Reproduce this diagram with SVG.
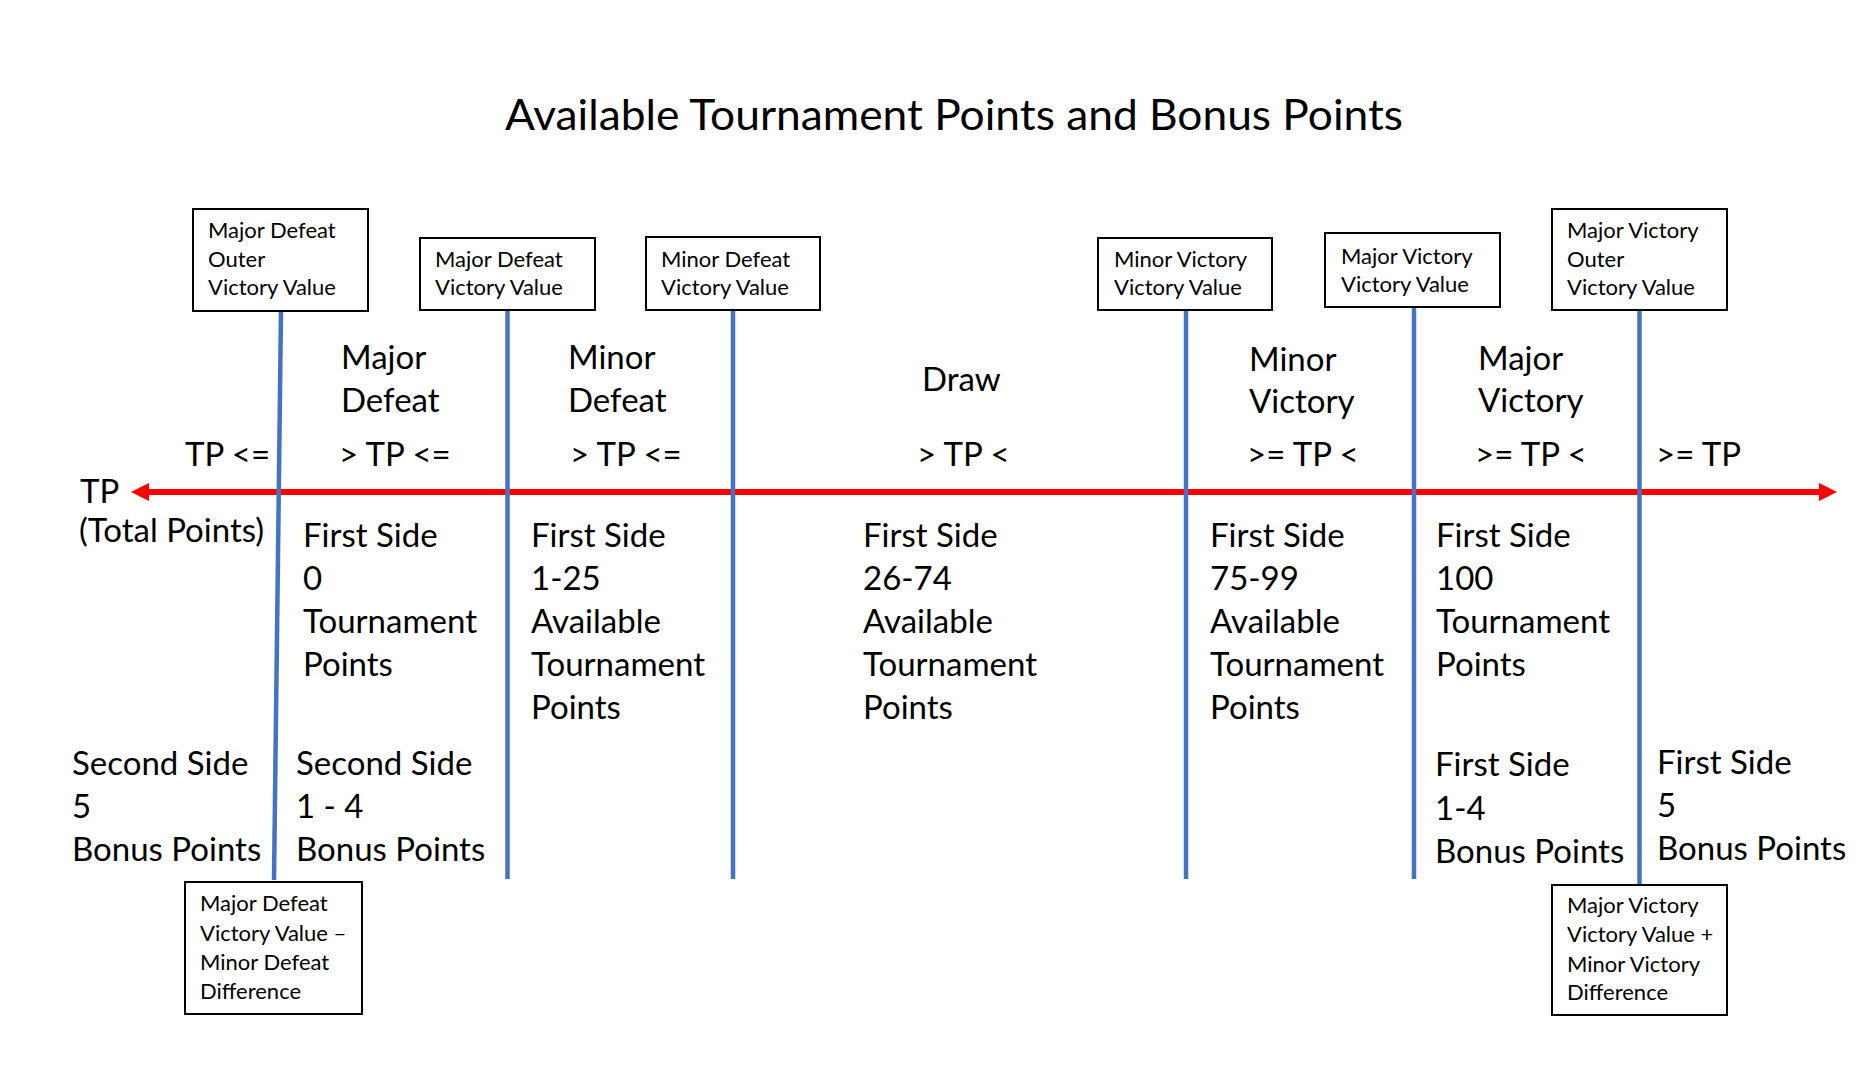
<svg xmlns="http://www.w3.org/2000/svg" width="1875" height="1071" viewBox="0 0 1875 1071">
<defs>
<style>
.title{font-family:Lato,"Liberation Sans",sans-serif;font-size:42px;fill:#000}
.t{font-family:Lato,"Liberation Sans",sans-serif;font-size:33px;fill:#000}
.bt{font-family:Lato,"Liberation Sans",sans-serif;font-size:22px;fill:#000}
.box{fill:#fff;stroke:#000;stroke-width:2}
.vl{stroke:#4472C4;stroke-width:4.5;fill:none}
.axis{stroke:#FF0000;stroke-width:6;fill:none}
</style>
<marker id="ah" markerUnits="userSpaceOnUse" markerWidth="18" markerHeight="18" refX="0" refY="9" orient="auto-start-reverse">
<path d="M0,0 L18,9 L0,18 z" fill="#FF0000"/>
</marker>
</defs>
<rect width="1875" height="1071" fill="#fff"/>
<text class="title" x="505" y="130" textLength="898" lengthAdjust="spacingAndGlyphs">Available Tournament Points and Bonus Points</text>

<g id="connectors">
<line class="axis" x1="149" y1="492" x2="1819" y2="492" marker-start="url(#ah)" marker-end="url(#ah)"/>
<line class="vl" x1="281" y1="311" x2="274" y2="880"/>
<line class="vl" x1="507.5" y1="310" x2="507.5" y2="879"/>
<line class="vl" x1="733" y1="310" x2="733" y2="879"/>
<line class="vl" x1="1186" y1="310" x2="1186" y2="879"/>
<line class="vl" x1="1414" y1="307" x2="1414" y2="879"/>
<line class="vl" x1="1639.5" y1="310" x2="1639.5" y2="885"/>
</g>

<g id="box-major-defeat-outer">
<rect class="box" x="193" y="209" width="175" height="102"/>
<text class="bt"><tspan x="208" y="238">Major Defeat</tspan><tspan x="208" y="267">Outer</tspan><tspan x="208" y="295">Victory Value</tspan></text>
</g>
<g id="box-major-defeat">
<rect class="box" x="420" y="238" width="175" height="72"/>
<text class="bt"><tspan x="435" y="267">Major Defeat</tspan><tspan x="435" y="295">Victory Value</tspan></text>
</g>
<g id="box-minor-defeat">
<rect class="box" x="646" y="237" width="174" height="73"/>
<text class="bt"><tspan x="661" y="267">Minor Defeat</tspan><tspan x="661" y="295">Victory Value</tspan></text>
</g>
<g id="box-minor-victory">
<rect class="box" x="1098" y="238" width="174" height="72"/>
<text class="bt"><tspan x="1114" y="267">Minor Victory</tspan><tspan x="1114" y="295">Victory Value</tspan></text>
</g>
<g id="box-major-victory">
<rect class="box" x="1325" y="233" width="175" height="74"/>
<text class="bt"><tspan x="1341" y="264">Major Victory</tspan><tspan x="1341" y="292">Victory Value</tspan></text>
</g>
<g id="box-major-victory-outer">
<rect class="box" x="1552" y="209" width="175" height="101"/>
<text class="bt"><tspan x="1567" y="238">Major Victory</tspan><tspan x="1567" y="267">Outer</tspan><tspan x="1567" y="295">Victory Value</tspan></text>
</g>
<g id="box-defeat-difference">
<rect class="box" x="185" y="882" width="177" height="132"/>
<text class="bt"><tspan x="200" y="911">Major Defeat</tspan><tspan x="200" y="941">Victory Value –</tspan><tspan x="200" y="970">Minor Defeat</tspan><tspan x="200" y="999">Difference</tspan></text>
</g>
<g id="box-victory-difference">
<rect class="box" x="1552" y="885" width="175" height="130"/>
<text class="bt"><tspan x="1567" y="913">Major Victory</tspan><tspan x="1567" y="942">Victory Value +</tspan><tspan x="1567" y="972">Minor Victory</tspan><tspan x="1567" y="1000">Difference</tspan></text>
</g>

<g id="axis-label">
<text class="t"><tspan x="80" y="503">TP</tspan><tspan x="79" y="542">(Total Points)</tspan></text>
</g>

<g id="col-outer-defeat">
<text class="t" x="185" y="466">TP &lt;=</text>
<text class="t"><tspan x="72" y="775">Second Side</tspan><tspan x="72" y="818">5</tspan><tspan x="72" y="861">Bonus Points</tspan></text>
</g>
<g id="col-major-defeat">
<text class="t"><tspan x="341" y="369">Major</tspan><tspan x="341" y="412">Defeat</tspan></text>
<text class="t" x="339" y="466">&gt; TP &lt;=</text>
<text class="t"><tspan x="303" y="547">First Side</tspan><tspan x="303" y="590">0</tspan><tspan x="303" y="633">Tournament</tspan><tspan x="303" y="676">Points</tspan></text>
<text class="t"><tspan x="296" y="775">Second Side</tspan><tspan x="296" y="818">1 - 4</tspan><tspan x="296" y="861">Bonus Points</tspan></text>
</g>
<g id="col-minor-defeat">
<text class="t"><tspan x="568" y="369">Minor</tspan><tspan x="568" y="412">Defeat</tspan></text>
<text class="t" x="570" y="466">&gt; TP &lt;=</text>
<text class="t"><tspan x="531" y="547">First Side</tspan><tspan x="531" y="590">1-25</tspan><tspan x="531" y="633">Available</tspan><tspan x="531" y="676">Tournament</tspan><tspan x="531" y="719">Points</tspan></text>
</g>
<g id="col-draw">
<text class="t" x="922" y="391">Draw</text>
<text class="t" x="917" y="466">&gt; TP &lt;</text>
<text class="t"><tspan x="863" y="547">First Side</tspan><tspan x="863" y="590">26-74</tspan><tspan x="863" y="633">Available</tspan><tspan x="863" y="676">Tournament</tspan><tspan x="863" y="719">Points</tspan></text>
</g>
<g id="col-minor-victory">
<text class="t"><tspan x="1249" y="371">Minor</tspan><tspan x="1249" y="413">Victory</tspan></text>
<text class="t" x="1247" y="466">&gt;= TP &lt;</text>
<text class="t"><tspan x="1210" y="547">First Side</tspan><tspan x="1210" y="590">75-99</tspan><tspan x="1210" y="633">Available</tspan><tspan x="1210" y="676">Tournament</tspan><tspan x="1210" y="719">Points</tspan></text>
</g>
<g id="col-major-victory">
<text class="t"><tspan x="1478" y="370">Major</tspan><tspan x="1478" y="412">Victory</tspan></text>
<text class="t" x="1475" y="466">&gt;= TP &lt;</text>
<text class="t"><tspan x="1436" y="547">First Side</tspan><tspan x="1436" y="590">100</tspan><tspan x="1436" y="633">Tournament</tspan><tspan x="1436" y="676">Points</tspan></text>
<text class="t"><tspan x="1435" y="776">First Side</tspan><tspan x="1435" y="820">1-4</tspan><tspan x="1435" y="863">Bonus Points</tspan></text>
</g>
<g id="col-outer-victory">
<text class="t" x="1656" y="466">&gt;= TP</text>
<text class="t"><tspan x="1657" y="774">First Side</tspan><tspan x="1657" y="817">5</tspan><tspan x="1657" y="860">Bonus Points</tspan></text>
</g>
</svg>
